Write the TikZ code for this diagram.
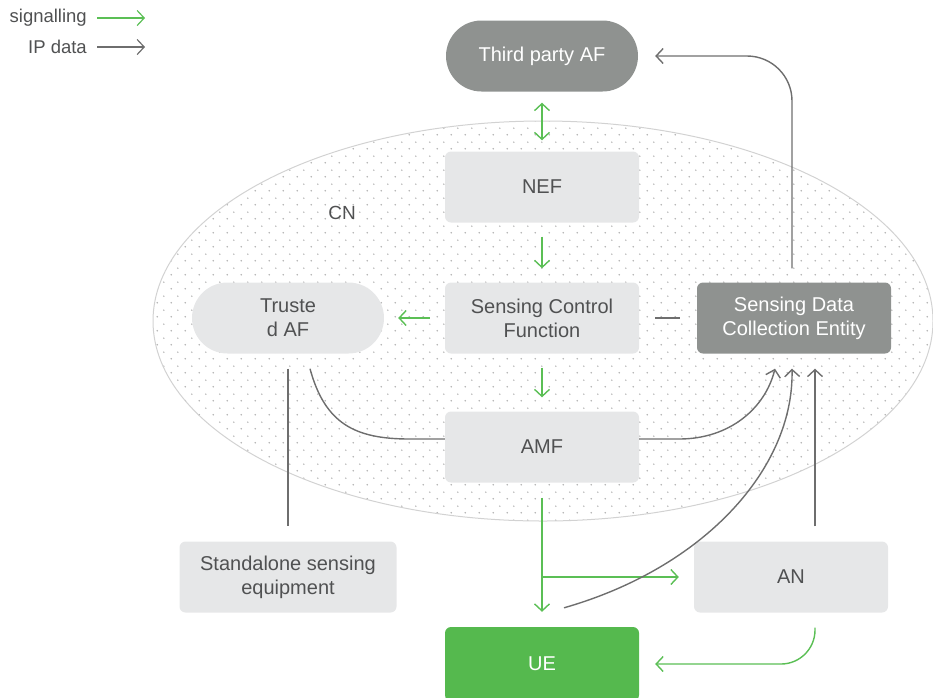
\documentclass[tikz,border=0pt]{standalone}
\usepackage{fontspec}
\setmainfont{Liberation Sans}
\usetikzlibrary{arrows.meta,positioning,calc,shapes.misc,patterns.meta}

\definecolor{boxgrey}{HTML}{E6E7E8}
\definecolor{darkfill}{HTML}{8F9290}
\definecolor{uegreen}{HTML}{55B94E}
\definecolor{siggreen}{HTML}{5BBF55}
\definecolor{ipgrey}{HTML}{6E6E6E}
\definecolor{txtgrey}{HTML}{505152}
\definecolor{cnline}{HTML}{D2D2D2}

\tikzdeclarepattern{
  name=cndots, type=uncolored,
  bottom left={(0pt,0pt)}, top right={(14pt,14pt)},
  tile size={(14pt,14pt)},
  code={
    \fill (3.5pt,3.5pt) circle (0.9pt);
    \fill (10.5pt,10.5pt) circle (0.9pt);
  }
}

\begin{document}
\begin{tikzpicture}[
  x=1pt, y=-1pt,
  >={Straight Barb[length=7pt,width=15pt]},
  every node/.style={font=\fontsize{20}{24}\selectfont, text=txtgrey, align=center},
  box/.style={fill=boxgrey, rounded corners=6pt, minimum width=194pt,
              minimum height=71pt, inner sep=2pt},
  dark/.style={box, fill=darkfill, text=white},
  pill/.style={rounded rectangle, fill=boxgrey, minimum width=196pt,
               minimum height=71pt, inner sep=2pt},
  legend/.style={font=\fontsize{18.5}{22}\selectfont, anchor=east, inner sep=0pt},
  sig/.style={draw=siggreen, line width=1.4pt},
  ip/.style={draw=ipgrey, line width=1.4pt},
]
\path[use as bounding box, clip] (0,0) rectangle (933,697);

% core network
\draw[draw=cnline, line width=1pt, pattern=cndots, pattern color=black!30]
  (543,321) ellipse [x radius=390, y radius=200];
\node[font=\fontsize{19}{22}\selectfont] (cn) at (342,213) {CN};

% legend
\node[legend] (siglbl) at (87,18) {signalling};
\node[legend] (iplbl) at (87,47) {IP data};
\coordinate (sigend) at (145,18);
\coordinate (ipend) at (145,47);
\draw[sig, line width=1.2pt, ->, shorten <=10pt] (siglbl.east) -- (sigend);
\draw[ip, line width=1.2pt, ->, shorten <=10pt] (iplbl.east) -- (ipend);

% boxes
\node[pill, fill=darkfill, text=white] (tpaf) at (542,56) {Third party AF};
\node[box] (nef) at (542,187) {NEF};
\node[box] (scf) at (542,318) {Sensing Control\\Function};
\node[pill] (taf) at (288,318) {Truste\\d AF};
\node[dark] (sdce) at (794,318) {Sensing Data\\Collection Entity};
\node[box] (amf) at (542,447) {AMF};
\node[box, minimum width=217pt] (sse) at (288,577) {Standalone sensing\\equipment};
\node[box] (an) at (791,577) {AN};
\node[box, fill=uegreen, text=white, minimum height=74pt] (ue) at (542,664) {UE};

\coordinate (antop) at ([xshift=24pt]an.north);
\coordinate (anbot) at ([xshift=24pt]an.south);

% signalling
\draw[sig, <->, shorten <=11pt, shorten >=11pt] (tpaf.south) -- (nef.north);
\draw[sig, ->, shorten <=14pt, shorten >=14pt] (nef.south) -- (scf.north);
\draw[sig, ->, shorten <=15pt, shorten >=14pt] (scf.west) -- (taf.east);
\draw[sig, ->, shorten <=14pt, shorten >=14pt] (scf.south) -- (amf.north);
\draw[sig, ->, shorten <=15pt, shorten >=15pt] (amf.south) -- (ue.north);
\draw[sig, ->, shorten >=15pt] (amf.south |- an.west) -- (an.west);
\draw[sig, ->, rounded corners=34pt, shorten <=15pt, shorten >=16pt]
  (anbot) |- (ue.east);

% IP data
\draw[ip, shorten <=16pt, shorten >=17pt] (scf.east) -- (sdce.west);
\draw[ip, shorten <=15pt, shorten >=15pt] (taf.south) -- (sse.north);
\draw[ip] ([xshift=22pt,yshift=-15pt]taf.south)
  .. controls +(15,55) and +(-55,0) .. ([xshift=-35pt,yshift=8pt]amf.west)
  -- ([yshift=8pt]amf.west);
\draw[ip, ->] ([yshift=8pt]amf.east) -- ++(40,0)
  .. controls +(50,0) and +(-10,40) .. ([xshift=-19pt,yshift=-15pt]sdce.south);
\draw[ip, ->] ([xshift=22pt,yshift=19pt]ue.north)
  .. controls +(140,-40) and +(2,100) .. ([xshift=-2pt,yshift=-15pt]sdce.south);
\draw[ip, ->, shorten <=15pt, shorten >=15pt] (antop) -- (antop |- sdce.south);
\draw[ip, ->, rounded corners=45pt, shorten <=14pt, shorten >=17pt]
  ([xshift=-2pt]sdce.north) |- (tpaf.east);
\end{tikzpicture}
\end{document}
